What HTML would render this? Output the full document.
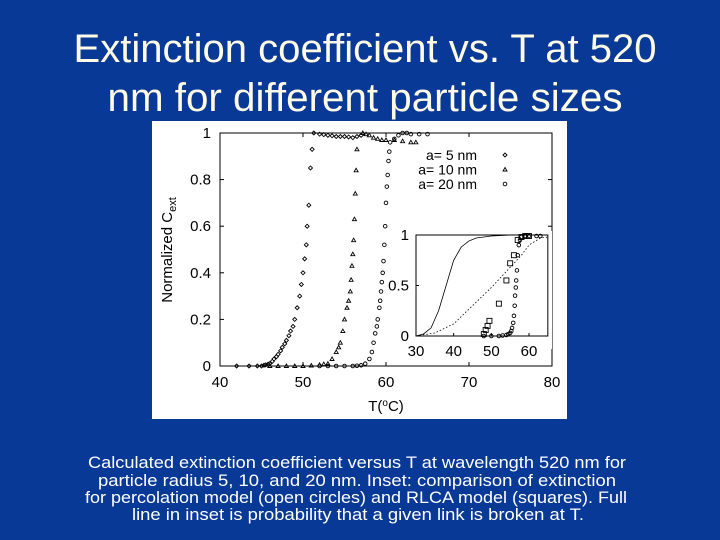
<!DOCTYPE html>
<html><head><meta charset="utf-8"><style>
html,body{margin:0;padding:0;background:#083997;}
svg{display:block;}
</style></head><body>
<svg width="720" height="540" viewBox="0 0 720 540" xmlns="http://www.w3.org/2000/svg" font-family="Liberation Sans, sans-serif">
<rect x="0" y="0" width="720" height="540" fill="#083997"/>
<g fill="#fffbe6" font-size="40" text-anchor="middle">
<text x="365" y="62" textLength="583" lengthAdjust="spacingAndGlyphs">Extinction coefficient vs. T at 520</text>
<text x="365" y="111" textLength="515" lengthAdjust="spacingAndGlyphs">nm for different particle sizes</text>
</g>
<rect x="152" y="121" width="415" height="298" fill="#fff"/>
<g id="main"></g>
<g id="inset"></g>
<g fill="#fff" font-size="17" text-anchor="middle">
<text x="357" y="468" textLength="538" lengthAdjust="spacingAndGlyphs">Calculated  extinction coefficient versus T at wavelength 520 nm for</text>
<text x="357" y="486" textLength="518" lengthAdjust="spacingAndGlyphs">particle radius 5, 10, and 20 nm.  Inset: comparison of extinction</text>
<text x="356" y="503" textLength="542" lengthAdjust="spacingAndGlyphs">for percolation model (open circles) and RLCA model (squares).  Full</text>
<text x="358" y="520" textLength="452" lengthAdjust="spacingAndGlyphs">line in inset is probability that a given link is broken at T.</text>
</g>
</svg>
<script>
const xTicks=[40,50,60,70,80];
const yTicks=[0,0.2,0.4,0.6,0.8,1];
const yTickLabels=["0","0.2","0.4","0.6","0.8","1"];
const s5T=[42,43.5,44.5,45,45.3,45.5,45.8,46,46.3,46.5,46.8,47,47.3,47.5,47.8,48,48.3,48.5,48.8,49,49.3,49.6,49.8,50,50.2,50.4,50.5,50.7,50.9,51.1,51.3,52,52.5,53,53.5,54,54.5,55,55.5,56,56.5,57];
const s5V=[0,0,0,0,0.003,0.005,0.008,0.01,0.02,0.03,0.04,0.05,0.065,0.08,0.095,0.11,0.13,0.15,0.17,0.2,0.25,0.3,0.35,0.4,0.46,0.52,0.6,0.69,0.85,0.93,1.0,0.995,0.993,0.99,0.988,0.985,0.985,0.985,0.983,0.98,0.985,0.99];
const s10T=[46,47,48,49,50,51,52,52.5,53,53.5,54,54.3,54.5,54.8,55,55.3,55.5,55.7,55.8,55.9,56,56.1,56.2,56.3,56.4,56.5,57.2,57.6,58,58.5,59,59.5,60,61,62,63,63.6];
const s10V=[0,0,0,0,0,0.002,0.005,0.008,0.01,0.03,0.06,0.08,0.1,0.15,0.2,0.25,0.28,0.32,0.37,0.43,0.48,0.54,0.63,0.74,0.84,0.93,1.0,0.995,0.99,0.98,0.975,0.97,0.97,0.97,0.965,0.96,0.96];
const s20T=[52,53,54,55,56,56.5,57,57.5,58,58.3,58.5,58.7,58.9,59,59.2,59.3,59.4,59.5,59.6,59.7,59.8,59.9,60,60.1,60.2,60.3,60.4,60.5,61,61.5,62,62.5,63,64,65];
const s20V=[0,0,0,0,0,0.001,0.003,0.01,0.03,0.06,0.1,0.14,0.17,0.2,0.25,0.28,0.32,0.36,0.4,0.45,0.52,0.6,0.7,0.77,0.82,0.88,0.92,0.96,0.975,0.99,1.0,1.0,0.995,0.995,0.995];
const inXTicks=[30,40,50,60];
const inYTicks=[0,0.5,1];
const lineT=[30,32,34,36,38,40,42,44,46,50,55,65];
const lineV=[0,0.02,0.08,0.25,0.5,0.75,0.88,0.94,0.97,0.99,1,1];
const dotT=[30,35,40,45,50,55,58,60,63,65];
const dotV=[0,0.03,0.12,0.3,0.48,0.68,0.8,0.9,0.97,0.98];
const sqT=[48,48.5,49,49.5,52,54,55,56,57,58,59,60];
const sqV=[0.02,0.06,0.1,0.15,0.32,0.55,0.72,0.8,0.95,0.98,0.99,0.99];
const ciT=[48,50,52,53,54,54.5,55,55.3,55.5,55.8,56,56.2,56.3,56.5,56.6,56.8,57,57.3,57.6,58,59,60,62,63];
const ciV=[0,0,0,0.005,0.01,0.02,0.03,0.05,0.08,0.13,0.2,0.3,0.4,0.48,0.55,0.65,0.8,0.9,0.95,0.98,0.99,0.99,0.99,0.99];

const NS="http://www.w3.org/2000/svg";
function mk(tag,attrs,parent){const e=document.createElementNS(NS,tag);for(const k in attrs)e.setAttribute(k,attrs[k]);parent.appendChild(e);return e;}
const X=v=>220+(v-40)*(552-220)/40, Y=v=>366-v*(366-133);
const main=document.getElementById('main');
let ax=mk('rect',{x:X(40),y:Y(1),width:X(80)-X(40),height:Y(0)-Y(1),fill:'none',stroke:'#000','stroke-width':1},main);


xTicks.forEach(t=>{
 mk('line',{x1:X(t),x2:X(t),y1:Y(0),y2:Y(0)-4,stroke:'#000'},main);
 mk('line',{x1:X(t),x2:X(t),y1:Y(1),y2:Y(1)+4,stroke:'#000'},main);
 const l=mk('text',{x:X(t),y:387,'font-size':15,'text-anchor':'middle',fill:'#000'},main);l.textContent=t;
 
 
});
yTicks.forEach((t,i)=>{
 mk('line',{x1:X(40),x2:X(40)+4,y1:Y(t),y2:Y(t),stroke:'#000'},main);
 mk('line',{x1:X(80),x2:X(80)-4,y1:Y(t),y2:Y(t),stroke:'#000'},main);
 const l=mk('text',{x:211,y:Y(t)+5,'font-size':15,'text-anchor':'end',fill:'#000'},main);l.textContent=yTickLabels[i];
 
 
});
let xt=mk('text',{x:386,y:411,'font-size':15,'text-anchor':'middle',fill:'#000'},main);
xt.innerHTML='T(<tspan dy="-5" font-size="10">o</tspan><tspan dy="5">C)</tspan>';


let yt=mk('text',{x:0,y:0,'font-size':15,'text-anchor':'middle',fill:'#000',transform:'translate(172,250) rotate(-90)'},main);
yt.innerHTML='Normalized C<tspan dy="4" font-size="11">ext</tspan>';


function series(T,V,name,shape,g,Xf,Yf){
 const grp=mk('g',{},g);
 
 
 T.forEach((t,i)=>{
  const x=Xf(t),y=Yf(V[i]);
  if(shape==='d')mk('path',{d:`M${x} ${y-2}L${x+2} ${y}L${x} ${y+2}L${x-2} ${y}Z`,fill:'none',stroke:'#000','stroke-width':0.9},grp);
  else if(shape==='t')mk('path',{d:`M${x} ${y-2}L${x+2} ${y+1.5}L${x-2} ${y+1.5}Z`,fill:'none',stroke:'#000','stroke-width':0.9},grp);
  else if(shape==='s')mk('rect',{x:x-2.5,y:y-2.5,width:5,height:5,fill:'none',stroke:'#000','stroke-width':0.9},grp);
  else mk('circle',{cx:x,cy:y,r:1.8,fill:'none',stroke:'#000','stroke-width':0.9},grp);
 });
}
series(s5T,s5V,'series-a5','d',main,X,Y);
series(s10T,s10V,'series-a10','t',main,X,Y);
series(s20T,s20V,'series-a20','c',main,X,Y);
const leg=[["a=  5 nm",'d'],["a= 10 nm",'t'],["a= 20 nm",'c']];
leg.forEach((e,i)=>{
 const y=160+i*14.5;
 const t=mk('text',{x:477,y:y,'font-size':14,'text-anchor':'end',fill:'#000'},main);t.textContent=e[0];
 
 
 series([0],[0],'legend-marker',e[1],main,()=>505,()=>y-5);
});
const inset=document.getElementById('inset');
const IX=v=>416+(v-30)*(529-416)/30, IY=v=>336-v*(336-235);
mk('rect',{x:412,y:231,width:140,height:118,fill:'#fff'},inset);
let ib=mk('rect',{x:IX(30),y:IY(1),width:IX(65)-IX(30),height:IY(0)-IY(1),fill:'none',stroke:'#000'},inset);


inXTicks.forEach(t=>{
 mk('line',{x1:IX(t),x2:IX(t),y1:IY(0),y2:IY(0)-3,stroke:'#000'},inset);
 const l=mk('text',{x:IX(t),y:356,'font-size':15,'text-anchor':'middle',fill:'#000'},inset);l.textContent=t;
 
 
});
inYTicks.forEach(t=>{
 mk('line',{x1:IX(30),x2:IX(30)+3,y1:IY(t),y2:IY(t),stroke:'#000'},inset);
 const l=mk('text',{x:409,y:IY(t)+5,'font-size':15,'text-anchor':'end',fill:'#000'},inset);l.textContent=t;
 
 
});
let pl=mk('polyline',{points:lineT.map((t,i)=>IX(t)+','+IY(lineV[i])).join(' '),fill:'none',stroke:'#000','stroke-width':0.8},inset);


let dl=mk('polyline',{points:dotT.map((t,i)=>IX(t)+','+IY(dotV[i])).join(' '),fill:'none',stroke:'#000','stroke-width':0.8,'stroke-dasharray':'1.5 2'},inset);


series(sqT,sqV,'inset-rlca-squares','s',inset,IX,IY);
series(ciT,ciV,'inset-percolation-circles','c',inset,IX,IY);
</script>
</body></html>
